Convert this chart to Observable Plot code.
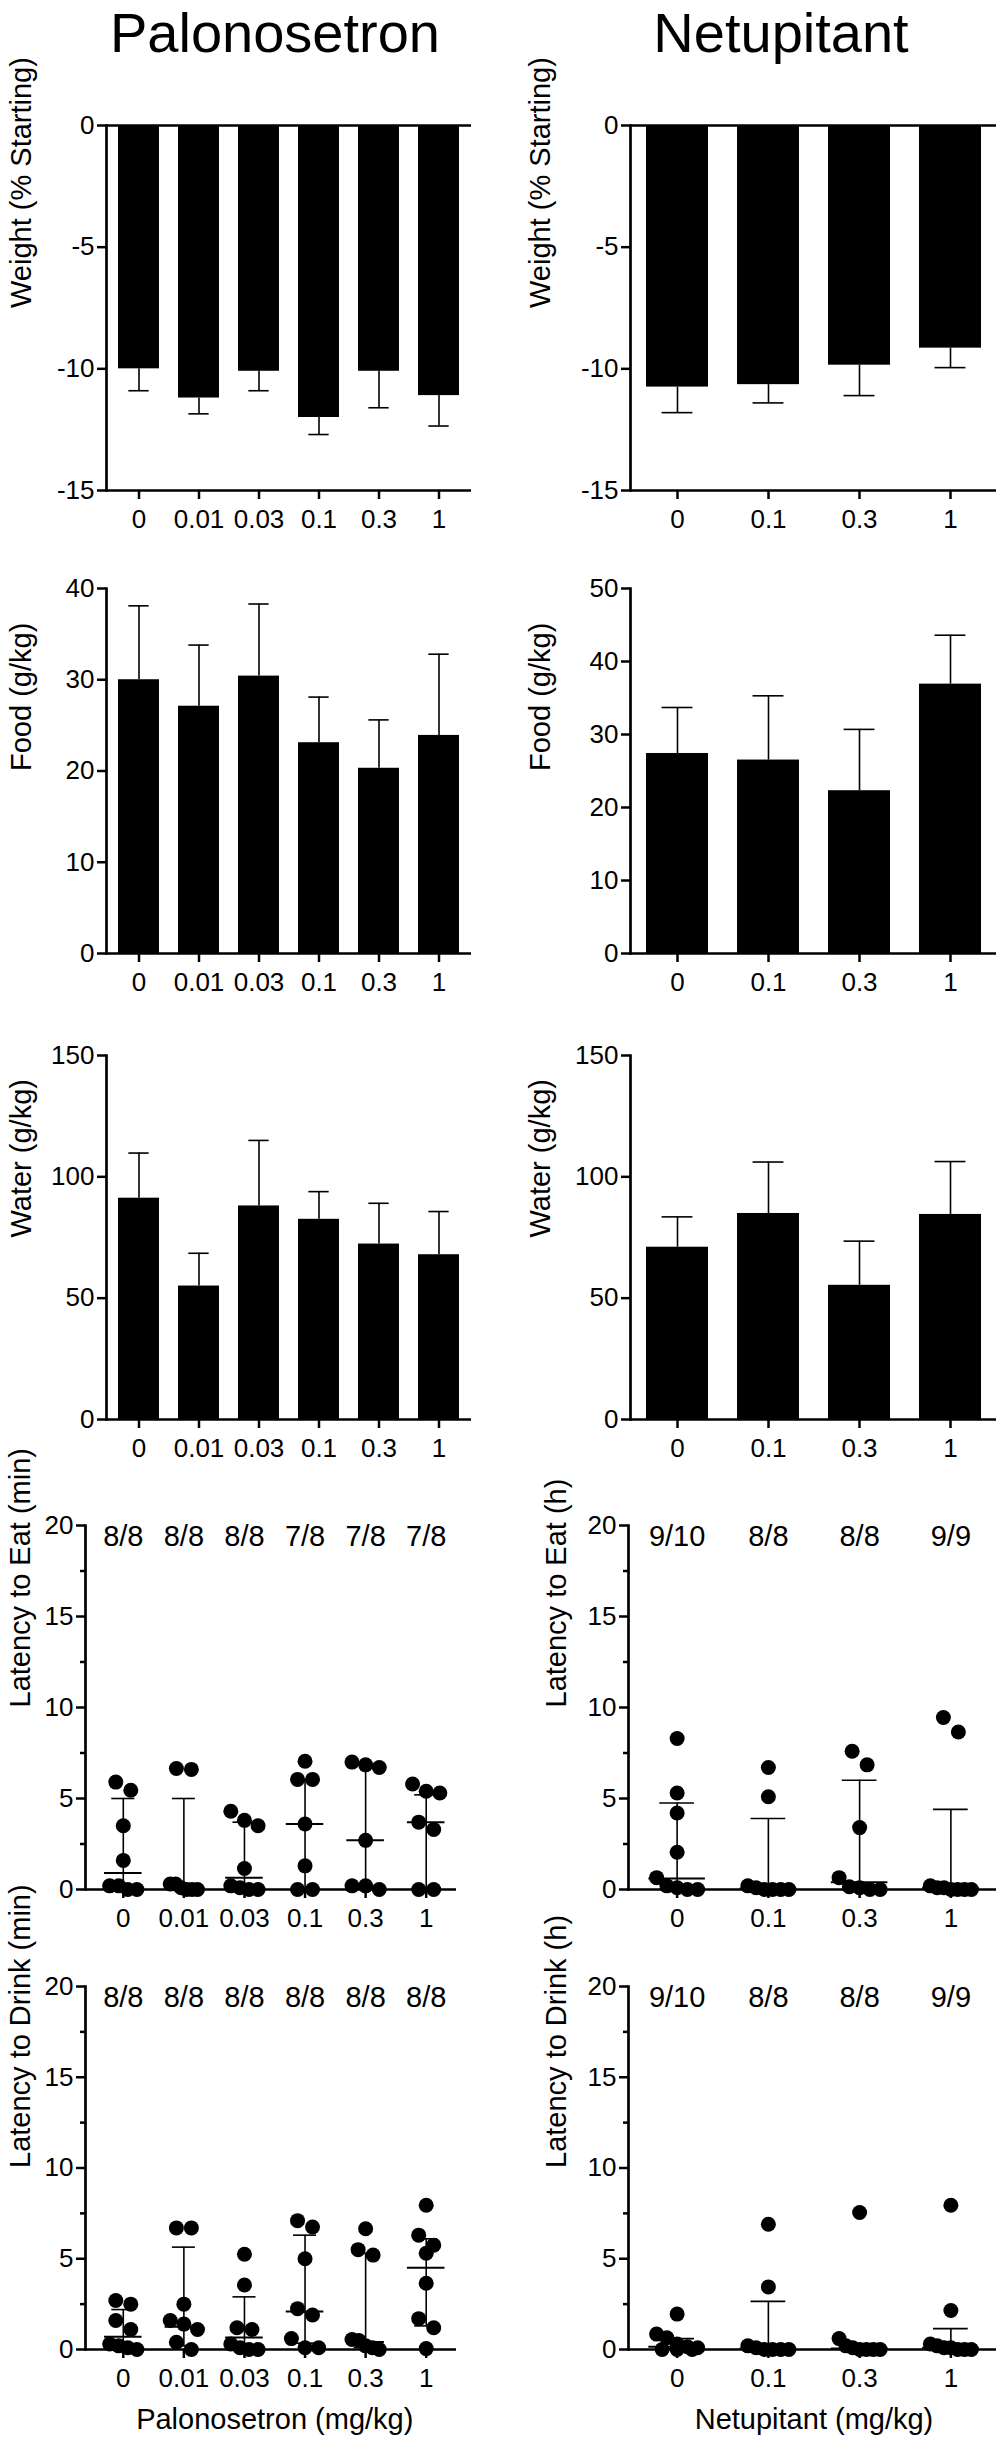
<!DOCTYPE html>
<html><head><meta charset="utf-8">
<script src="https://cdn.jsdelivr.net/npm/d3@7"></script>
<script src="https://cdn.jsdelivr.net/npm/@observablehq/plot@0.6"></script>
<style>
body{margin:0;background:#fff;}
#fig{position:relative;width:1001px;height:2449px;background:#fff;font-family:"Liberation Sans",Arial,Helvetica,sans-serif;overflow:hidden}
.title{position:absolute;top:1px;font-size:56px;line-height:64px;transform:translateX(-50%);white-space:nowrap;color:#000}
</style></head><body>
<div id="fig">
<div class="title" style="left:275px">Palonosetron</div>
<div class="title" style="left:781px">Netupitant</div>
</div>
<script>
// ---------- categories ----------
const palCats = ["0", "0.01", "0.03", "0.1", "0.3", "1"];
const netCats = ["0", "0.1", "0.3", "1"];

// ---------- bar panels (mean, SD) ----------
const weightPalMean = [-10.0, -11.2, -10.1, -12.0, -10.1, -11.1];
const weightPalSD   = [0.9, 0.65, 0.8, 0.7, 1.5, 1.25];
const weightNetMean = [-10.75, -10.65, -9.85, -9.15];
const weightNetSD   = [1.05, 0.75, 1.25, 0.8];
const foodPalMean = [30.0, 27.1, 30.4, 23.1, 20.3, 23.9];
const foodPalSD   = [8.1, 6.7, 7.9, 5.0, 5.3, 8.9];
const foodNetMean = [27.4, 26.5, 22.3, 36.9];
const foodNetSD   = [6.3, 8.8, 8.4, 6.7];
const waterPalMean = [91.2, 55.0, 88.0, 82.5, 72.3, 67.9];
const waterPalSD   = [18.6, 13.5, 27.0, 11.4, 16.8, 17.8];
const waterNetMean = [71.0, 84.9, 55.3, 84.5];
const waterNetSD   = [12.5, 21.2, 18.2, 21.8];

// ---------- latency panels (individual values, median, IQR) ----------
const eatPal = [
  [5.9, 5.45, 3.5, 1.6, 0.2, 0.2, 0, 0],
  [6.65, 6.6, 0.3, 0.3, 0.1, 0, 0, 0],
  [4.3, 3.8, 3.5, 1.15, 0.2, 0.1, 0, 0],
  [7.05, 6.05, 6.05, 3.6, 1.3, 0, 0],
  [7.0, 6.85, 6.7, 2.7, 0.2, 0.2, 0],
  [5.8, 5.4, 5.3, 3.7, 3.3, 0, 0]
];
const eatPalMedian = [0.9, 0.05, 0.65, 3.6, 2.7, 3.7];
const eatPalQ1 = [0, 0, 0, 0, 0.1, 0];
const eatPalQ3 = [5.0, 5.0, 3.7, 6.05, 6.85, 5.2];
const eatPalN = ["8/8", "8/8", "8/8", "7/8", "7/8", "7/8"];

const eatNet = [
  [8.3, 5.3, 4.2, 2.05, 0.65, 0.2, 0.1, 0, 0],
  [6.7, 5.1, 0.2, 0.1, 0, 0, 0, 0],
  [7.6, 6.85, 3.4, 0.65, 0.15, 0.1, 0, 0],
  [9.45, 8.65, 0.2, 0.1, 0.1, 0, 0, 0, 0]
];
const eatNetMedian = [0.6, 0.05, 0.4, 0.1];
const eatNetQ1 = [0, 0, 0, 0];
const eatNetQ3 = [4.75, 3.9, 6.0, 4.4];
const eatNetN = ["9/10", "8/8", "8/8", "9/9"];

const drinkPal = [
  [2.7, 2.5, 1.6, 1.1, 0.3, 0.2, 0.1, 0],
  [6.7, 6.7, 2.5, 1.6, 1.4, 1.1, 0.4, 0],
  [5.25, 3.55, 1.2, 1.1, 0.3, 0.1, 0, 0],
  [7.1, 6.75, 5.0, 2.25, 1.9, 0.6, 0.1, 0.1],
  [6.65, 5.5, 5.2, 0.55, 0.5, 0.2, 0.1, 0],
  [7.95, 6.3, 5.75, 5.3, 3.65, 1.7, 1.2, 0.05]
];
const drinkPalMedian = [0.7, 1.25, 0.66, 2.1, 0.42, 4.5];
const drinkPalQ1 = [0.05, 0.2, 0, 0.35, 0.1, 1.3];
const drinkPalQ3 = [2.2, 5.64, 2.9, 6.3, 5.3, 6.1];
const drinkPalN = ["8/8", "8/8", "8/8", "8/8", "8/8", "8/8"];

const drinkNet = [
  [1.95, 0.85, 0.65, 0.3, 0.15, 0.1, 0, 0, 0],
  [6.9, 3.45, 0.2, 0.1, 0, 0, 0, 0],
  [7.55, 0.6, 0.2, 0.1, 0, 0, 0, 0],
  [7.95, 2.15, 0.3, 0.2, 0.1, 0.1, 0, 0, 0]
];
const drinkNetMedian = [0.15, 0.05, 0.05, 0.1];
const drinkNetQ1 = [0, 0, 0, 0];
const drinkNetQ3 = [0.6, 2.65, 0.3, 1.15];
const drinkNetN = ["9/10", "8/8", "8/8", "9/9"];

// ---------- layout ----------
const FONT = '"Liberation Sans", Arial, Helvetica, sans-serif';
const rowTop = [125, 588, 1055, 1525, 1986];
const rowBottom = [490, 953, 1419, 1889, 2349];
const MT = 30;
const fig = document.getElementById("fig");

function geom(col, kind, row) {
  const mb = row === 4 ? 100 : 60;
  const h = rowBottom[row] - rowTop[row];
  const g = {h, height: MT + h + mb, marginTop: MT, marginBottom: mb, top: rowTop[row] - MT};
  if (col === 0) {
    Object.assign(g, {left: 0, width: 490},
      kind === "bar" ? {marginLeft: 106, marginRight: 19, labelDx: -85}
                     : {marginLeft: 85, marginRight: 34, xRange: [92.5, 456], labelDx: -65});
  } else {
    Object.assign(g, {left: 500, width: 501},
      kind === "bar" ? {marginLeft: 130, marginRight: 5, labelDx: -90}
                     : {marginLeft: 128, marginRight: 5, xRange: [131, 496], labelDx: -72});
  }
  return g;
}
function place(svg, g) {
  svg.style.position = "absolute";
  svg.style.left = g.left + "px";
  svg.style.top = g.top + "px";
  fig.appendChild(svg);
}
const baseStyle = {fontFamily: FONT, fontSize: "26px", color: "black", background: "transparent", overflow: "visible"};

function barPanel(cats, mean, sd, yDomain, yTicks, label, col, row) {
  const g = geom(col, "bar", row);
  const data = cats.map((c, i) => ({cat: c, v: mean[i], end: mean[i] + Math.sign(mean[i]) * sd[i]}));
  const step = (g.width - g.marginLeft - g.marginRight) / cats.length;
  const capInset = 0.17 * step;
  const marks = [
    Plot.barY(data, {x: "cat", y: "v", fill: "black"}),
    Plot.ruleX(data, {x: "cat", y1: "v", y2: "end", stroke: "black", strokeWidth: 1.6}),
    Plot.tickY(data, {x: "cat", y: "end", stroke: "black", strokeWidth: 1.6, insetLeft: capInset, insetRight: capInset}),
    Plot.ruleY([yDomain[0]], {stroke: "black", strokeWidth: 2.7}),
    Plot.frame({anchor: "left", stroke: "black", strokeWidth: 2.7}),
    Plot.axisX({tickSize: 9, tickPadding: 10, fontSize: 26, strokeWidth: 2.5, label: null}),
    Plot.axisY({ticks: yTicks, tickSize: 9, tickPadding: 3, fontSize: 26, strokeWidth: 2.5, label: null, tickFormat: d => String(d)}),
    Plot.text([label], {text: d => d, frameAnchor: "left", rotate: -90, dx: g.labelDx, fontSize: 29, fill: "black"})
  ];
  if (yDomain[1] === 0) marks.push(Plot.ruleY([0], {stroke: "black", strokeWidth: 2.7}));
  const svg = Plot.plot({
    width: g.width, height: g.height,
    marginLeft: g.marginLeft, marginRight: g.marginRight, marginTop: g.marginTop, marginBottom: g.marginBottom,
    style: baseStyle,
    x: {type: "band", domain: cats, paddingInner: 0.32, paddingOuter: 0.16},
    y: {domain: yDomain},
    marks
  });
  place(svg, g);
}

// horizontal spreading of points that share (nearly) the same value, like a column scatter
function spread(values, pxPerUnit, step) {
  const rowGap = 15 / pxPerUnit, maxSpread = 0.45 * step, spacing = 15;
  const order = values.map((v, i) => i).sort((a, b) => values[b] - values[a]);
  const rows = [];
  for (const i of order) {
    const last = rows[rows.length - 1];
    if (last && values[last[0]] - values[i] < rowGap) last.push(i); else rows.push([i]);
  }
  const off = new Array(values.length).fill(0);
  for (const r of rows) {
    const k = r.length;
    const sp = k > 1 ? Math.min(spacing, maxSpread / (k - 1)) : 0;
    r.forEach((i, j) => { off[i] = (j - (k - 1) / 2) * sp / step; });
  }
  return off;
}

function scatterPanel(cats, groups, med, q1, q3, ns, label, col, row, xTitle) {
  const g = geom(col, "scatter", row);
  const n = cats.length;
  const step = (g.xRange[1] - g.xRange[0]) / n;
  const pxPerUnit = g.h / 20;
  const points = [];
  groups.forEach((vals, i) => {
    const off = spread(vals, pxPerUnit, step);
    vals.forEach((v, j) => points.push({i, v, x: i + off[j]}));
  });
  const summary = cats.map((c, i) => ({i, cat: c, med: med[i], q1: q1[i], q3: q3[i], n: ns[i], top: 20}));
  const marks = [
    Plot.ruleY([0], {stroke: "black", strokeWidth: 2.7}),
    Plot.frame({anchor: "left", stroke: "black", strokeWidth: 2.7}),
    Plot.axisX({ticks: d3.range(n), tickFormat: i => cats[i], tickSize: 9, tickPadding: 10, fontSize: 26, strokeWidth: 2.5, label: null}),
    Plot.axisY({ticks: [0, 5, 10, 15, 20], tickSize: 9, tickPadding: 3, fontSize: 26, strokeWidth: 2.5, label: null}),
    Plot.axisY({ticks: [2.5, 7.5, 12.5, 17.5], tickSize: 5, tickFormat: () => "", strokeWidth: 2.5, label: null}),
    Plot.ruleX(summary, {x: "i", y1: "q1", y2: "q3", stroke: "black", strokeWidth: 1.6}),
    Plot.ruleY(summary, {y: "q3", x1: d => d.i - 0.19, x2: d => d.i + 0.19, stroke: "black", strokeWidth: 1.6}),
    Plot.ruleY(summary, {y: "q1", x1: d => d.i - 0.19, x2: d => d.i + 0.19, stroke: "black", strokeWidth: 1.6}),
    Plot.ruleY(summary, {y: "med", x1: d => d.i - 0.31, x2: d => d.i + 0.31, stroke: "black", strokeWidth: 2}),
    Plot.dot(points, {x: "x", y: "v", r: 7.5, fill: "black", stroke: "none"}),
    Plot.text(summary, {x: "i", y: "top", text: "n", dy: 11, fontSize: 29, fill: "black"}),
    Plot.text([label], {text: d => d, frameAnchor: "left", rotate: -90, dx: g.labelDx, fontSize: 29, fill: "black"})
  ];
  if (xTitle) marks.push(Plot.text([xTitle], {text: d => d, x: () => (n - 1) / 2, frameAnchor: "bottom", dy: 79, fontSize: 29, fill: "black"}));
  const svg = Plot.plot({
    width: g.width, height: g.height,
    marginLeft: g.marginLeft, marginRight: g.marginRight, marginTop: g.marginTop, marginBottom: g.marginBottom,
    style: baseStyle,
    x: {type: "linear", domain: [-0.5, n - 0.5], range: g.xRange},
    y: {domain: [0, 20]},
    marks
  });
  place(svg, g);
}

barPanel(palCats, weightPalMean, weightPalSD, [-15, 0], [0, -5, -10, -15], "Weight (% Starting)", 0, 0);
barPanel(netCats, weightNetMean, weightNetSD, [-15, 0], [0, -5, -10, -15], "Weight (% Starting)", 1, 0);
barPanel(palCats, foodPalMean, foodPalSD, [0, 40], [0, 10, 20, 30, 40], "Food (g/kg)", 0, 1);
barPanel(netCats, foodNetMean, foodNetSD, [0, 50], [0, 10, 20, 30, 40, 50], "Food (g/kg)", 1, 1);
barPanel(palCats, waterPalMean, waterPalSD, [0, 150], [0, 50, 100, 150], "Water (g/kg)", 0, 2);
barPanel(netCats, waterNetMean, waterNetSD, [0, 150], [0, 50, 100, 150], "Water (g/kg)", 1, 2);
scatterPanel(palCats, eatPal, eatPalMedian, eatPalQ1, eatPalQ3, eatPalN, "Latency to Eat (min)", 0, 3);
scatterPanel(netCats, eatNet, eatNetMedian, eatNetQ1, eatNetQ3, eatNetN, "Latency to Eat (h)", 1, 3);
scatterPanel(palCats, drinkPal, drinkPalMedian, drinkPalQ1, drinkPalQ3, drinkPalN, "Latency to Drink (min)", 0, 4, "Palonosetron (mg/kg)");
scatterPanel(netCats, drinkNet, drinkNetMedian, drinkNetQ1, drinkNetQ3, drinkNetN, "Latency to Drink (h)", 1, 4, "Netupitant (mg/kg)");
</script>
</body></html>
